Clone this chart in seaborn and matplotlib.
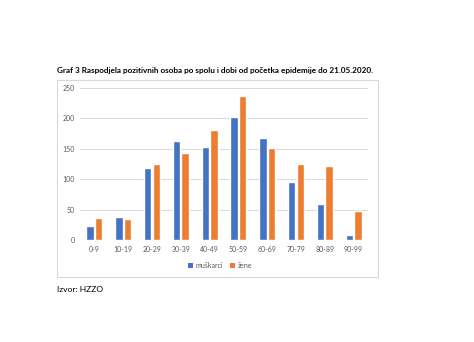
import matplotlib
matplotlib.use("Agg")
import matplotlib.pyplot as plt
import seaborn as sns
import pandas as pd
from matplotlib.patches import Rectangle, Patch

categories = ["0-9", "10-19", "20-29", "30-39", "40-49", "50-59", "60-69", "70-79", "80-89", "90-99"]
muskarci = [23, 38, 118, 163, 153, 202, 167, 96, 60, 8]
zene = [36, 35, 125, 143, 181, 237, 152, 125, 122, 48]
series_names = ["muškarci", "žene"]
yticks = [0, 50, 100, 150, 200, 250]

df = pd.DataFrame({
    "dob": categories * 2,
    "broj": muskarci + zene,
    "spol": [series_names[0]] * len(categories) + [series_names[1]] * len(categories),
})

sns.set_theme(style="white")
plt.rcParams["font.family"] = ["Lato", "DejaVu Sans"]

W, H = 474, 342
fig = plt.figure(figsize=(W / 100, H / 100), dpi=100)
fig.patch.set_facecolor("white")

# chart frame
fig.patches.append(Rectangle((57 / W, 1 - 277 / H), 321 / W, 197 / H,
                             transform=fig.transFigure, fill=False,
                             edgecolor="#D9D9D9", linewidth=0.8))

ax = fig.add_axes([80 / W, 1 - 240 / H, 288 / W, 152 / H])
palette = {"muškarci": "#4472C4", "žene": "#ED7D31"}
sns.barplot(data=df, x="dob", y="broj", hue="spol", palette=palette,
            width=0.6, gap=0.15, ax=ax, legend=False, saturation=1)

ax.set_ylim(0, 250)
ax.set_yticks(yticks)
ax.set_xlabel("")
ax.set_ylabel("")
for s in ax.spines.values():
    s.set_visible(False)
ax.grid(axis="y", color="#D9D9D9", linewidth=0.7)
ax.set_axisbelow(True)
ax.tick_params(axis="both", length=0, labelsize=5, colors="#595959", pad=4)

handles = [Patch(facecolor=palette[n], edgecolor="none") for n in series_names]
fig.legend(handles, series_names, loc="center", bbox_to_anchor=(220 / W, 1 - 265 / H),
           ncol=2, frameon=False, fontsize=5, handlelength=0.7, handleheight=0.7,
           handletextpad=0.4, columnspacing=1.0, labelcolor="#595959")

fig.text(57 / W, 1 - 70 / H,
         "Graf 3 Raspodjela pozitivnih osoba po spolu i dobi od početka epidemije do 21.05.2020.",
         fontsize=5.9, fontweight="bold", ha="left", va="center", color="black")
fig.text(57 / W, 1 - 290 / H, "Izvor: HZZO", fontsize=6.1, ha="left", va="center", color="black")

fig.savefig("out.png", dpi=100, facecolor="white")
